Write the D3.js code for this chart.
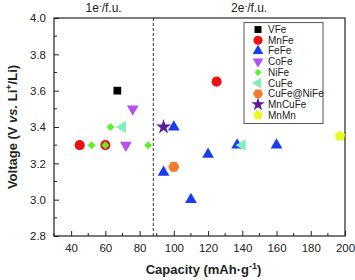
<!DOCTYPE html>
<html>
<head>
<meta charset="utf-8">
<script src="https://cdn.jsdelivr.net/npm/d3@7"></script>
<style>
  body { margin: 0; background: #fff; }
  text { font-family: "Liberation Sans", Arial, sans-serif; }
</style>
</head>
<body>
<svg id="chart"></svg>
<script>
// series in legend order
const seriesNames = ['VFe', 'MnFe', 'FeFe', 'CoFe', 'NiFe', 'CuFe', 'CuFe@NiFe', 'MnCuFe', 'MnMn'];

// one entry per point
const pointSeries   = ['VFe',
                       'MnFe', 'MnFe', 'MnFe',
                       'FeFe', 'FeFe', 'FeFe', 'FeFe', 'FeFe', 'FeFe',
                       'CoFe', 'CoFe',
                       'NiFe', 'NiFe', 'NiFe', 'NiFe',
                       'CuFe', 'CuFe',
                       'CuFe@NiFe',
                       'MnCuFe',
                       'MnMn'];
const pointCapacity = [67,
                       45, 60, 125,
                       100, 94, 110, 120, 137, 160,
                       76, 72,
                       63, 52, 60, 85,
                       70, 140,
                       100,
                       94,
                       197];
const pointVoltage  = [3.6,
                       3.3, 3.3, 3.65,
                       3.4, 3.15, 3.0, 3.25, 3.3, 3.3,
                       3.5, 3.3,
                       3.4, 3.3, 3.3, 3.3,
                       3.4, 3.3,
                       3.18,
                       3.4,
                       3.35];

const xTicks = [40, 60, 80, 100, 120, 140, 160, 180, 200];
const yTicks = [2.8, 3.0, 3.2, 3.4, 3.6, 3.8, 4.0];
const dividerCapacity = 88;
const regionLabels = ['1e', '2e'];

const styles = {
    'VFe':       { color: '#000000', shape: 'square' },
    'MnFe':      { color: '#ee1111', shape: 'circle' },
    'FeFe':      { color: '#1a3cf0', shape: 'up' },
    'CoFe':      { color: '#b650f0', shape: 'down' },
    'NiFe':      { color: '#5cf02a', shape: 'diamond' },
    'CuFe':      { color: '#80f0b8', shape: 'left' },
    'CuFe@NiFe': { color: '#f47a2c', shape: 'hexagon' },
    'MnCuFe':    { color: '#5a1c9c', shape: 'star' },
    'MnMn':      { color: '#e8fa1e', shape: 'pentagon' }
};

const width = 355, height = 280;
const margin = { top: 18, right: 10, bottom: 44, left: 54 };
const innerW = width - margin.left - margin.right;
const innerH = height - margin.top - margin.bottom;

const svg = d3.select('#chart').attr('width', width).attr('height', height);
const chart = svg.append('g').attr('transform', `translate(${margin.left},${margin.top})`);

const x = d3.scaleLinear().domain([30, 200]).range([0, innerW]);
const y = d3.scaleLinear().domain([2.8, 4.0]).range([innerH, 0]);

// minor ticks
const xMinor = d3.range(30, 201, 10).filter(v => !xTicks.includes(v));
const yMinor = d3.range(2.9, 4.0, 0.2);

chart.append('g').selectAll('line').data(xMinor).join('line')
    .attr('x1', d => x(d)).attr('x2', d => x(d))
    .attr('y1', innerH).attr('y2', innerH - 3)
    .attr('stroke', '#222');
chart.append('g').selectAll('line').data(yMinor).join('line')
    .attr('x1', 0).attr('x2', 3)
    .attr('y1', d => y(d)).attr('y2', d => y(d))
    .attr('stroke', '#222');

const xaxis = d3.axisBottom(x).tickValues(xTicks).tickSizeInner(-5).tickSizeOuter(0).tickPadding(8);
const yaxis = d3.axisLeft(y).tickValues(yTicks).tickFormat(d3.format('.1f')).tickSizeInner(-5).tickSizeOuter(0).tickPadding(8);

const xg = chart.append('g').attr('transform', `translate(0,${innerH})`).call(xaxis);
const yg = chart.append('g').call(yaxis);
[xg, yg].forEach(g => {
    g.selectAll('text').style('font-size', '11.5px').attr('fill', '#222')
        .style('font-family', '"Liberation Sans", Arial, sans-serif');
    g.selectAll('line').attr('stroke', '#222');
    g.select('.domain').remove();
});

// frame
chart.append('rect')
    .attr('width', innerW).attr('height', innerH)
    .attr('fill', 'none').attr('stroke', '#222').attr('stroke-width', 1.2);

// divider
chart.append('line')
    .attr('x1', x(dividerCapacity)).attr('x2', x(dividerCapacity))
    .attr('y1', 0).attr('y2', innerH)
    .attr('stroke', '#333').attr('stroke-dasharray', '3,2');

// region labels
const labelX = [x((30 + dividerCapacity) / 2) + margin.left, x((dividerCapacity + 200) / 2) + margin.left];
regionLabels.forEach((lab, i) => {
    const t = svg.append('text')
        .attr('x', labelX[i]).attr('y', 12)
        .attr('text-anchor', 'middle')
        .style('font-size', '12px').attr('fill', '#222');
    t.append('tspan').text(lab);
    t.append('tspan').text('-').attr('dy', -4).style('font-size', '8px');
    t.append('tspan').text('/f.u.').attr('dy', 4);
});

function symbolPath(shape) {
    switch (shape) {
        case 'square':  return d3.symbol(d3.symbolSquare, 60)();
        case 'circle':  return d3.symbol(d3.symbolCircle, 80)();
        case 'diamond': return d3.symbol(d3.symbolDiamond2 || d3.symbolDiamond, 40)();
        case 'star':    return d3.symbol(d3.symbolStar, 70)();
        case 'up':
        case 'down':
        case 'left':    return d3.symbol(d3.symbolTriangle, 60)();
        case 'hexagon':
        case 'pentagon': {
            const n = shape === 'hexagon' ? 6 : 5, r = 5.6;
            const off = shape === 'hexagon' ? 0 : -Math.PI / 2;
            const pts = d3.range(n).map(i => [r * Math.cos(off + i * 2 * Math.PI / n), r * Math.sin(off + i * 2 * Math.PI / n)]);
            return 'M' + pts.join('L') + 'Z';
        }
    }
}
function symbolRotate(shape) {
    if (shape === 'down') return 180;
    if (shape === 'left') return -90;
    return 0;
}

const points = pointSeries.map((s, i) => ({ series: s, cap: pointCapacity[i], volt: pointVoltage[i] }))
    .sort((a, b) => seriesNames.indexOf(a.series) - seriesNames.indexOf(b.series));

chart.append('g').selectAll('path').data(points).join('path')
    .attr('d', d => symbolPath(styles[d.series].shape))
    .attr('transform', d => `translate(${x(d.cap)},${y(d.volt)}) rotate(${symbolRotate(styles[d.series].shape)})`)
    .attr('fill', d => styles[d.series].color);

// legend
const legend = chart.append('g').attr('transform', `translate(${x(141)},${y(3.975)})`);
legend.append('rect')
    .attr('width', 79).attr('height', 101)
    .attr('fill', '#fff').attr('stroke', '#555').attr('stroke-width', 1);
const items = legend.selectAll('g').data(seriesNames).join('g')
    .attr('transform', (d, i) => `translate(0,${7 + i * 10.7})`);
items.append('path')
    .attr('d', d => symbolPath(styles[d].shape))
    .attr('transform', d => `translate(14,0) rotate(${symbolRotate(styles[d].shape)}) scale(0.9)`)
    .attr('fill', d => styles[d].color);
items.append('text')
    .attr('x', 24).attr('y', 3.5)
    .style('font-size', '10px').attr('fill', '#222')
    .text(d => d);

// axis labels
const xl = svg.append('text')
    .attr('x', margin.left + innerW / 2 + 4).attr('y', 274)
    .attr('text-anchor', 'middle')
    .style('font-size', '13px').style('font-weight', 'bold').attr('fill', '#222');
xl.append('tspan').text('Capacity (mAh·g');
xl.append('tspan').text('-1').attr('dy', -5).style('font-size', '9px');
xl.append('tspan').text(')').attr('dy', 5);

const yl = svg.append('text')
    .attr('transform', `translate(17,${margin.top + innerH / 2}) rotate(-90)`)
    .attr('text-anchor', 'middle')
    .style('font-size', '13px').style('font-weight', 'bold').attr('fill', '#222');
yl.append('tspan').text('Voltage (V ');
yl.append('tspan').text('vs.').style('font-style', 'italic');
yl.append('tspan').text(' Li');
yl.append('tspan').text('+').attr('dy', -5).style('font-size', '9px');
yl.append('tspan').text('/Li)').attr('dy', 5);
</script>
</body>
</html>
